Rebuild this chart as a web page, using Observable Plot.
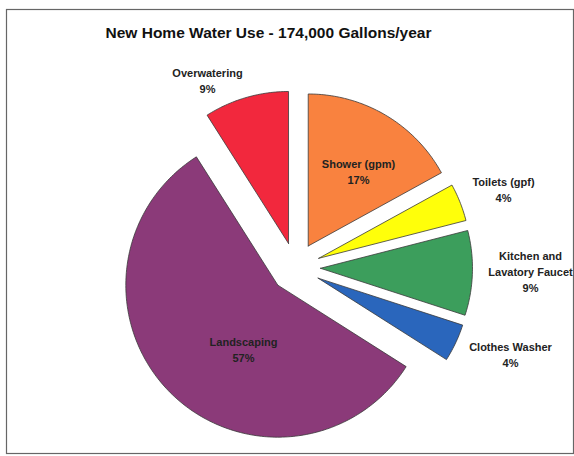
<!DOCTYPE html>
<html><head><meta charset="utf-8">
<script src="https://cdn.jsdelivr.net/npm/d3@7"></script>
<script src="https://cdn.jsdelivr.net/npm/@observablehq/plot@0.6"></script>
<style>
body{margin:0;background:#fff;font-family:"Liberation Sans",Arial,sans-serif}
#chart svg{display:block}
</style>
</head><body><div id="chart"></div>
<script>
// ---- data ----
const categories = ["Shower (gpm)", "Toilets (gpf)", "Kitchen and Lavatory Faucet", "Clothes Washer", "Landscaping", "Overwatering"];
const labelLines = [["Shower (gpm)"], ["Toilets (gpf)"], ["Kitchen and", "Lavatory Faucet"], ["Clothes Washer"], ["Landscaping"], ["Overwatering"]];
const percents = [17, 4, 9, 4, 57, 9];
const titleText = "New Home Water Use - 174,000 Gallons/year";

// ---- styles / layout ----
const sliceColors = ["#f9823f", "#ffff0a", "#3c9e5c", "#2a66bc", "#8b3a79", "#f2283d"];
const W = 574, H = 456;
const CX = 295, CY = 267, R = 152, EXPLODE = 25; // pixels
// label block centre offsets from pie centre (pixels, y down)
const labelOffsets = [[63, -97], [208, -79], [235, 3], [215, 86], [-52, 81], [-88, -188]];

// ---- geometry in radius units (y up) ----
const total = d3.sum(percents);
const slices = [];
const points = [];
let cum = 0;
percents.forEach((p, i) => {
  const a0 = cum / total * 2 * Math.PI;
  cum += p;
  const a1 = cum / total * 2 * Math.PI;
  const mid = (a0 + a1) / 2;
  const ox = Math.sin(mid) * EXPLODE / R, oy = Math.cos(mid) * EXPLODE / R;
  const pts = [[ox, oy]];
  const n = Math.max(2, Math.ceil((a1 - a0) / (Math.PI / 180)));
  for (let k = 0; k <= n; k++) {
    const a = a0 + (a1 - a0) * k / n;
    pts.push([ox + Math.sin(a), oy + Math.cos(a)]);
  }
  pts.push([ox, oy]);
  pts.forEach(([x, y]) => points.push({name: categories[i], color: sliceColors[i], x, y}));
  slices.push({
    name: categories[i],
    label: [...labelLines[i], `${p}%`].join("\n"),
    lx: labelOffsets[i][0] / R,
    ly: -labelOffsets[i][1] / R
  });
});

const chart = Plot.plot({
  width: W,
  height: H,
  margin: 0,
  x: {domain: [-CX / R, (W - CX) / R], axis: null},
  y: {domain: [-(H - CY) / R, CY / R], axis: null},
  color: {type: "identity"},
  style: {fontFamily: "'Liberation Sans', Arial, sans-serif", background: "#fff"},
  marks: [
    Plot.frame({insetLeft: 6, insetTop: 9, insetRight: 1, insetBottom: 3, stroke: "#666", strokeWidth: 1.2}),
    Plot.line(points, {x: "x", y: "y", z: "name", fill: "color", stroke: "#3a3a3a", strokeWidth: 0.8, curve: "linear"}),
    Plot.text(slices, {x: "lx", y: "ly", text: "label", fontSize: 11, fontWeight: "bold", fill: "#222", lineHeight: 1.45, lineAnchor: "middle"}),
    Plot.text([titleText], {x: () => (268 - CX) / R, y: () => (CY - 33) / R, text: d => d, fontSize: 15.5, fontWeight: "bold", fill: "#111"})
  ]
});
document.getElementById("chart").appendChild(chart);
</script>
</body></html>
